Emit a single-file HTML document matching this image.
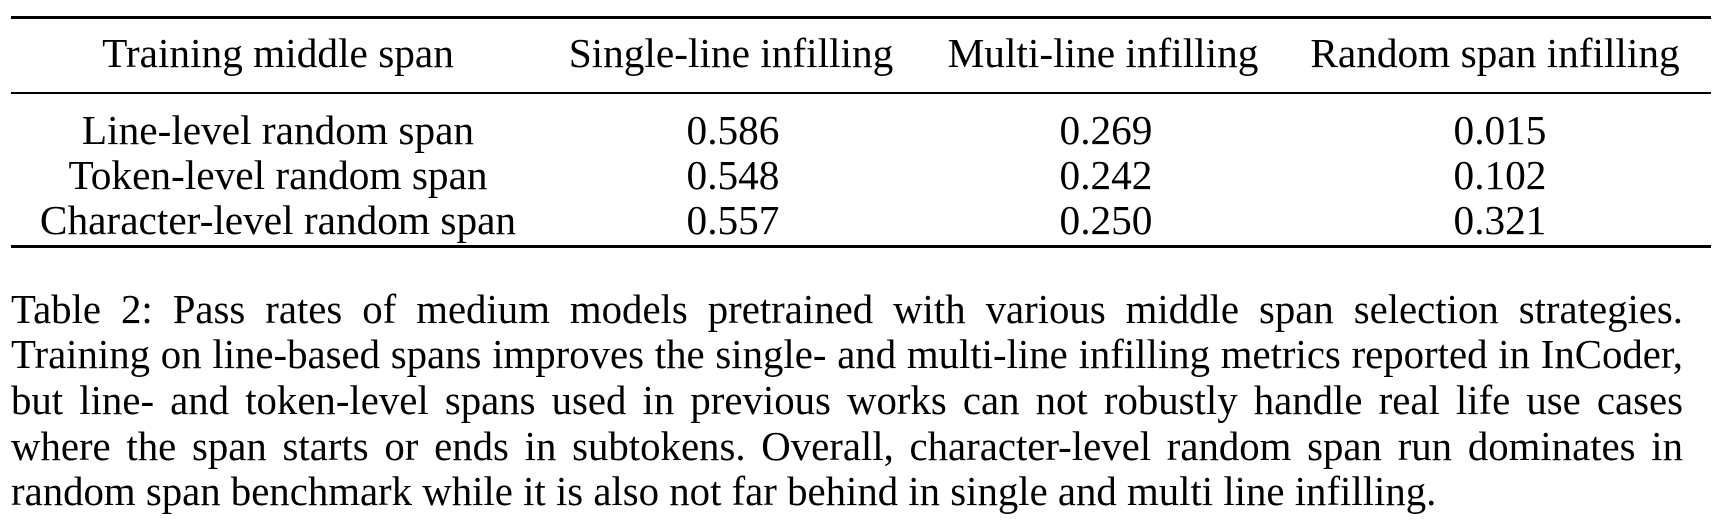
<!DOCTYPE html>
<html><head><meta charset="utf-8"><style>
html,body{margin:0;padding:0;background:#fff;}
body{width:1734px;height:532px;position:relative;overflow:hidden;font-family:"Liberation Serif",serif;color:#000;font-size:41.3px;}
.rule{position:absolute;left:11px;width:1700px;background:#000;}
.c{position:absolute;white-space:nowrap;transform:translateX(-50%);line-height:1;}
.cap{position:absolute;left:11px;width:1672px;text-align:justify;text-align-last:justify;white-space:nowrap;line-height:1;font-size:40.8px;}
</style></head><body>
<div class="rule" style="top:16px;height:3px"></div>
<div class="rule" style="top:92px;height:2px"></div>
<div class="rule" style="top:245px;height:3px"></div>

<div class="c" style="left:278px;top:33px">Training middle span</div>
<div class="c" style="left:731px;top:33px">Single-line infilling</div>
<div class="c" style="left:1103px;top:33px">Multi-line infilling</div>
<div class="c" style="left:1495px;top:33px">Random span infilling</div>

<div class="c" style="left:278px;top:110px">Line-level random span</div>
<div class="c" style="left:733px;top:110px">0.586</div>
<div class="c" style="left:1106px;top:110px">0.269</div>
<div class="c" style="left:1500px;top:110px">0.015</div>

<div class="c" style="left:278px;top:155px">Token-level random span</div>
<div class="c" style="left:733px;top:155px">0.548</div>
<div class="c" style="left:1106px;top:155px">0.242</div>
<div class="c" style="left:1500px;top:155px">0.102</div>

<div class="c" style="left:278px;top:200px">Character-level random span</div>
<div class="c" style="left:733px;top:200px">0.557</div>
<div class="c" style="left:1106px;top:200px">0.250</div>
<div class="c" style="left:1500px;top:200px">0.321</div>

<div class="cap" style="top:290px">Table 2: Pass rates of medium models pretrained with various middle span selection strategies.</div>
<div class="cap" style="top:335px">Training on line-based spans improves the single- and multi-line infilling metrics reported in InCoder,</div>
<div class="cap" style="top:381px">but line- and token-level spans used in previous works can not robustly handle real life use cases</div>
<div class="cap" style="top:427px">where the span starts or ends in subtokens. Overall, character-level random span run dominates in</div>
<div class="cap" style="top:472px;text-align-last:left">random span benchmark while it is also not far behind in single and multi line infilling.</div>
</body></html>
